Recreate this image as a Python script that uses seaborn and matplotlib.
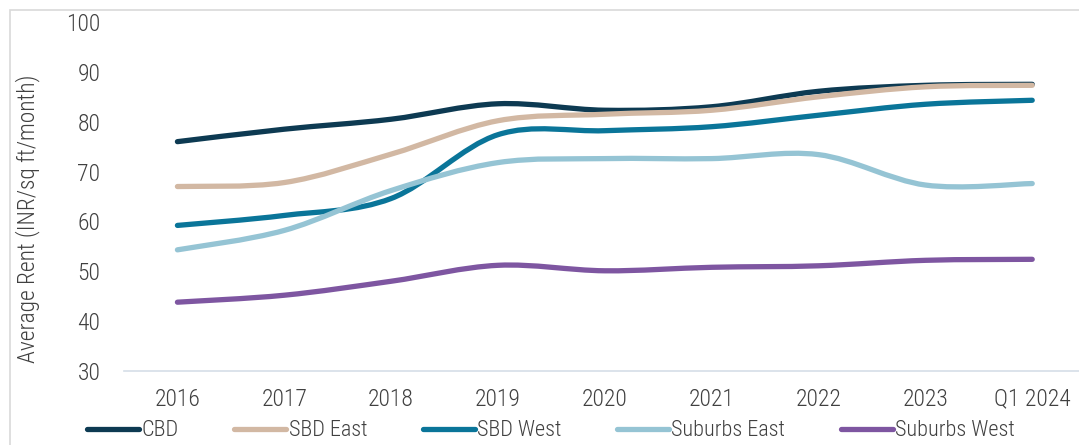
import numpy as np
import pandas as pd
import matplotlib
matplotlib.use("Agg")
import matplotlib.pyplot as plt
from matplotlib import font_manager
from matplotlib.path import Path
from matplotlib.patches import PathPatch, Rectangle
import seaborn as sns

years = ["2016", "2017", "2018", "2019", "2020", "2021", "2022", "2023", "Q1 2024"]
cbd = [76.0, 78.5, 80.5, 83.6, 82.3, 83.0, 86.1, 87.3, 87.5]
sbd_east = [67.0, 67.8, 73.5, 80.2, 81.5, 82.3, 85.0, 87.0, 87.3]
sbd_west = [59.2, 61.2, 64.6, 77.4, 78.2, 79.0, 81.3, 83.5, 84.3]
suburbs_east = [54.3, 58.2, 66.2, 71.8, 72.6, 72.6, 73.4, 67.3, 67.6]
suburbs_west = [43.8, 45.2, 48.0, 51.2, 50.1, 50.8, 51.1, 52.2, 52.4]

series = {
    "CBD": cbd,
    "SBD East": sbd_east,
    "SBD West": sbd_west,
    "Suburbs East": suburbs_east,
    "Suburbs West": suburbs_west,
}
colors = ["#0D3A52", "#D2B8A3", "#0A7599", "#95C4D4", "#7E56A1"]

sns.set_theme(style="white")
avail = {f.name for f in font_manager.fontManager.ttflist}
fam = "DejaVu Sans"
for name in ["Roboto Condensed", "Liberation Sans Narrow", "Open Sans Condensed", "Roboto", "Liberation Sans"]:
    if name in avail:
        fam = name
        break
plt.rcParams["font.family"] = [fam, "DejaVu Sans"]
plt.rcParams["font.weight"] = "light"
plt.rcParams["axes.labelweight"] = "light"

df = pd.DataFrame(
    [(i, v, k) for k, vals in series.items() for i, v in enumerate(vals)],
    columns=["pos", "rent", "market"],
)

fig = plt.figure(figsize=(10.79, 4.45), dpi=100)
ax = fig.add_axes([124 / 1079, 1 - 371 / 445, (1079 - 124) / 1079, (371 - 22) / 445])

sns.lineplot(data=df, x="pos", y="rent", hue="market", palette=colors,
             linewidth=3.8, estimator=None, sort=False, ax=ax)


def smooth_path(x, y):
    # excel-style smoothed line: catmull-rom -> cubic bezier
    pts = np.column_stack([x, y])
    p = np.vstack([pts[0], pts, pts[-1]])
    verts = [pts[0]]
    codes = [Path.MOVETO]
    for i in range(1, len(p) - 2):
        c1 = p[i] + (p[i + 1] - p[i - 1]) / 6
        c2 = p[i + 1] - (p[i + 2] - p[i]) / 6
        verts += [c1, c2, p[i + 1]]
        codes += [Path.CURVE4] * 3
    return Path(verts, codes)


for line in list(ax.lines):
    x, y = np.asarray(line.get_xdata(), float), np.asarray(line.get_ydata(), float)
    if len(x) < 2:
        continue
    patch = PathPatch(smooth_path(x, y), facecolor="none", edgecolor=line.get_color(),
                      linewidth=line.get_linewidth(), capstyle="round", joinstyle="round")
    ax.add_patch(patch)
    line.remove()

ax.set_xlim(-0.5, (1079 - 177) / 106.9)
ax.set_ylim(30, 100)
ax.set_yticks(range(30, 101, 10))
ax.set_xticks(range(len(years)))
ax.set_xticklabels(years)
ax.tick_params(axis="both", length=0, labelsize=17, labelcolor="#404040")
ax.tick_params(axis="y", pad=17)
ax.tick_params(axis="x", pad=12)
ax.set_xlabel("")
ax.set_ylabel("Average Rent (INR/sq ft/month)", fontsize=16.8, color="#404040")
ax.yaxis.set_label_coords(-0.088, 0.435)

for s in ["top", "left", "right"]:
    ax.spines[s].set_visible(False)
ax.spines["bottom"].set_color("#D5DEE8")
ax.spines["bottom"].set_linewidth(1.2)

sns.move_legend(ax, "center", bbox_to_anchor=(551 / 1079, 1 - 431 / 445),
                bbox_transform=fig.transFigure, ncol=5, frameon=False, title=None,
                fontsize=16, handlelength=2.35, handletextpad=0.1, columnspacing=2.5)
for t in ax.get_legend().get_texts():
    t.set_color("#404040")
for h in ax.get_legend().legend_handles:
    h.set_linewidth(3.8)
    h.set_solid_capstyle("round")

fig.patches.append(Rectangle((10 / 1079, -0.1), 1.2, 1 - 10 / 445 + 0.1, transform=fig.transFigure,
                             facecolor="none", edgecolor="#D9D9D9", linewidth=1.2, figure=fig))

fig.savefig("out.png", dpi=100)
